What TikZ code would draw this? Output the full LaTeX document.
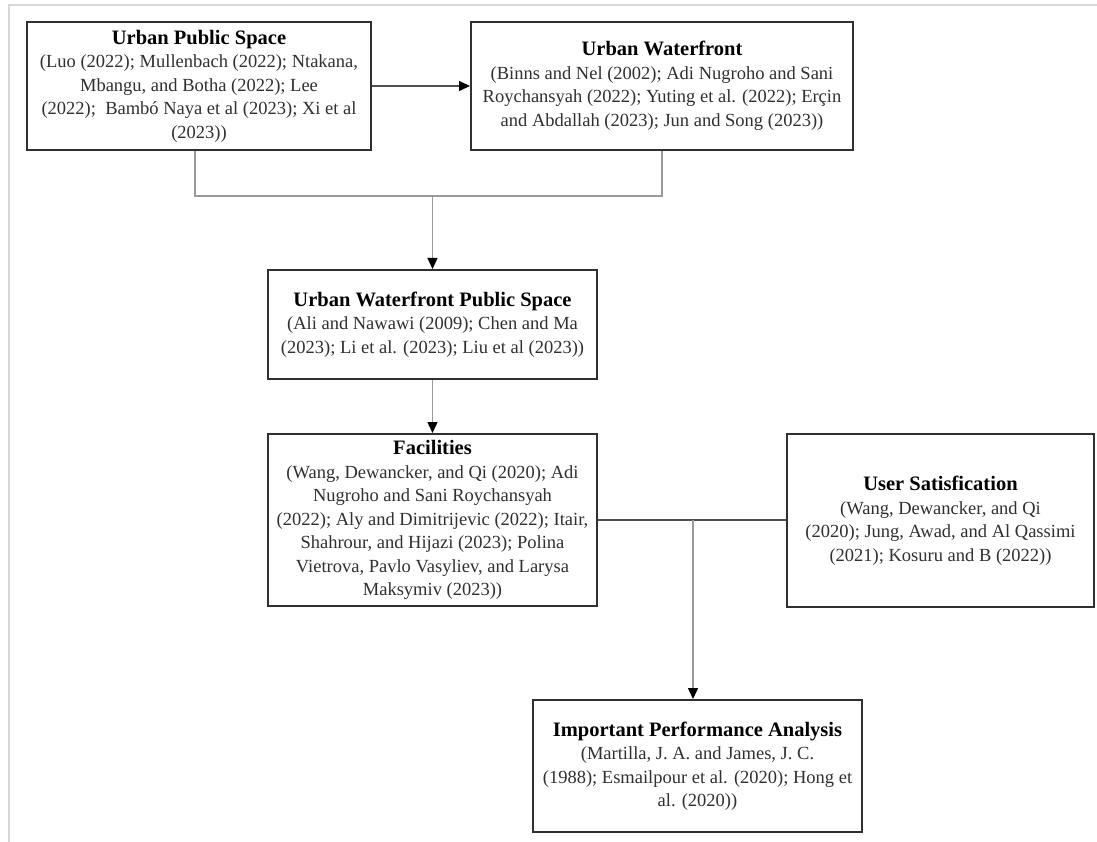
\documentclass[tikz,border=0pt]{standalone}
\usepackage{fontspec}
\setmainfont{Liberation Serif}
\usetikzlibrary{arrows.meta,calc}
\definecolor{boxline}{HTML}{303030}
\definecolor{connline}{HTML}{9A9A9A}
\definecolor{darkconn}{HTML}{505050}
\definecolor{framecol}{HTML}{D8D8D8}
\definecolor{bodytext}{HTML}{303030}
\newcommand{\ttl}[1]{{\fontsize{20.5}{23.5}\selectfont\bfseries\color{black}#1}}
\tikzset{
  box/.style={draw=boxline, line width=2pt, fill=white, align=center,
    font=\fontsize{18.5}{23.5}\selectfont, text=bodytext, inner sep=2pt},
  conn/.style={draw=connline, line width=1.4pt},
  dconn/.style={draw=darkconn, line width=1.4pt},
  arr/.style={-{Triangle[length=11pt,width=10pt,black]}},
  frame/.style={draw=framecol, line width=2pt}
}
\begin{document}
\begin{tikzpicture}[x=1pt,y=1pt]
\useasboundingbox (0,0) rectangle (1097,-842);
\draw[frame] (9,-842) coordinate (fa) -- (9,-5) coordinate (fb) -- (1097,-5) coordinate (fc);

\node[box, minimum width=344, minimum height=128] (ups) at (199,-86) {\ttl{Urban Public Space}\\
(Luo (2022); Mullenbach (2022); Ntakana,\\
Mbangu, and Botha (2022); Lee\\
(2022);\ \ Bambó Naya et al (2023); Xi et al\\
(2023))};

\node[box, minimum width=382, minimum height=128] (uw) at (662,-86) {\ttl{Urban Waterfront}\\
(Binns and Nel (2002); Adi Nugroho and Sani\\
Roychansyah (2022); Yuting et al. (2022); Erçin\\
and Abdallah (2023); Jun and Song (2023))};

\node[box, minimum width=329, minimum height=109] (uwps) at (432.5,-324.5) {\ttl{Urban Waterfront Public Space}\\
(Ali and Nawawi (2009); Chen and Ma\\
(2023); Li et al. (2023); Liu et al (2023))};

\node[box, minimum width=329, minimum height=172] (fac) at (432.5,-520) {\ttl{Facilities}\\
(Wang, Dewancker, and Qi (2020); Adi\\
Nugroho and Sani Roychansyah\\
(2022); Aly and Dimitrijevic (2022); Itair,\\
Shahrour, and Hijazi (2023); Polina\\
Vietrova, Pavlo Vasyliev, and Larysa\\
Maksymiv (2023))};

\node[box, minimum width=307, minimum height=173] (us) at (940.5,-520.5) {\ttl{User Satisfication}\\
(Wang, Dewancker, and Qi\\
(2020); Jung, Awad, and Al Qassimi\\
(2021); Kosuru and B (2022))};

\node[box, minimum width=329, minimum height=132] (ipa) at (697.5,-766) {\ttl{Important Performance Analysis}\\
(Martilla, J. A. and James, J. C.\\
(1988); Esmailpour et al. (2020); Hong et\\
al. (2020))};

\coordinate (mrg) at (432.5,-196);
\coordinate (jn) at (693,-520);

\draw[dconn, arr] (ups.east) -- (uw.west);
\draw[conn] ($(ups.south)+(-4,0)$) |- (mrg) -| (uw.south);
\draw[conn, arr] (mrg) -- (uwps.north);
\draw[conn, arr] (uwps.south) -- (fac.north);
\draw[dconn] (fac.east) -- (fac.east -| us.west);
\draw[conn, arr] (jn) -- (jn |- ipa.north);
\end{tikzpicture}
\end{document}
